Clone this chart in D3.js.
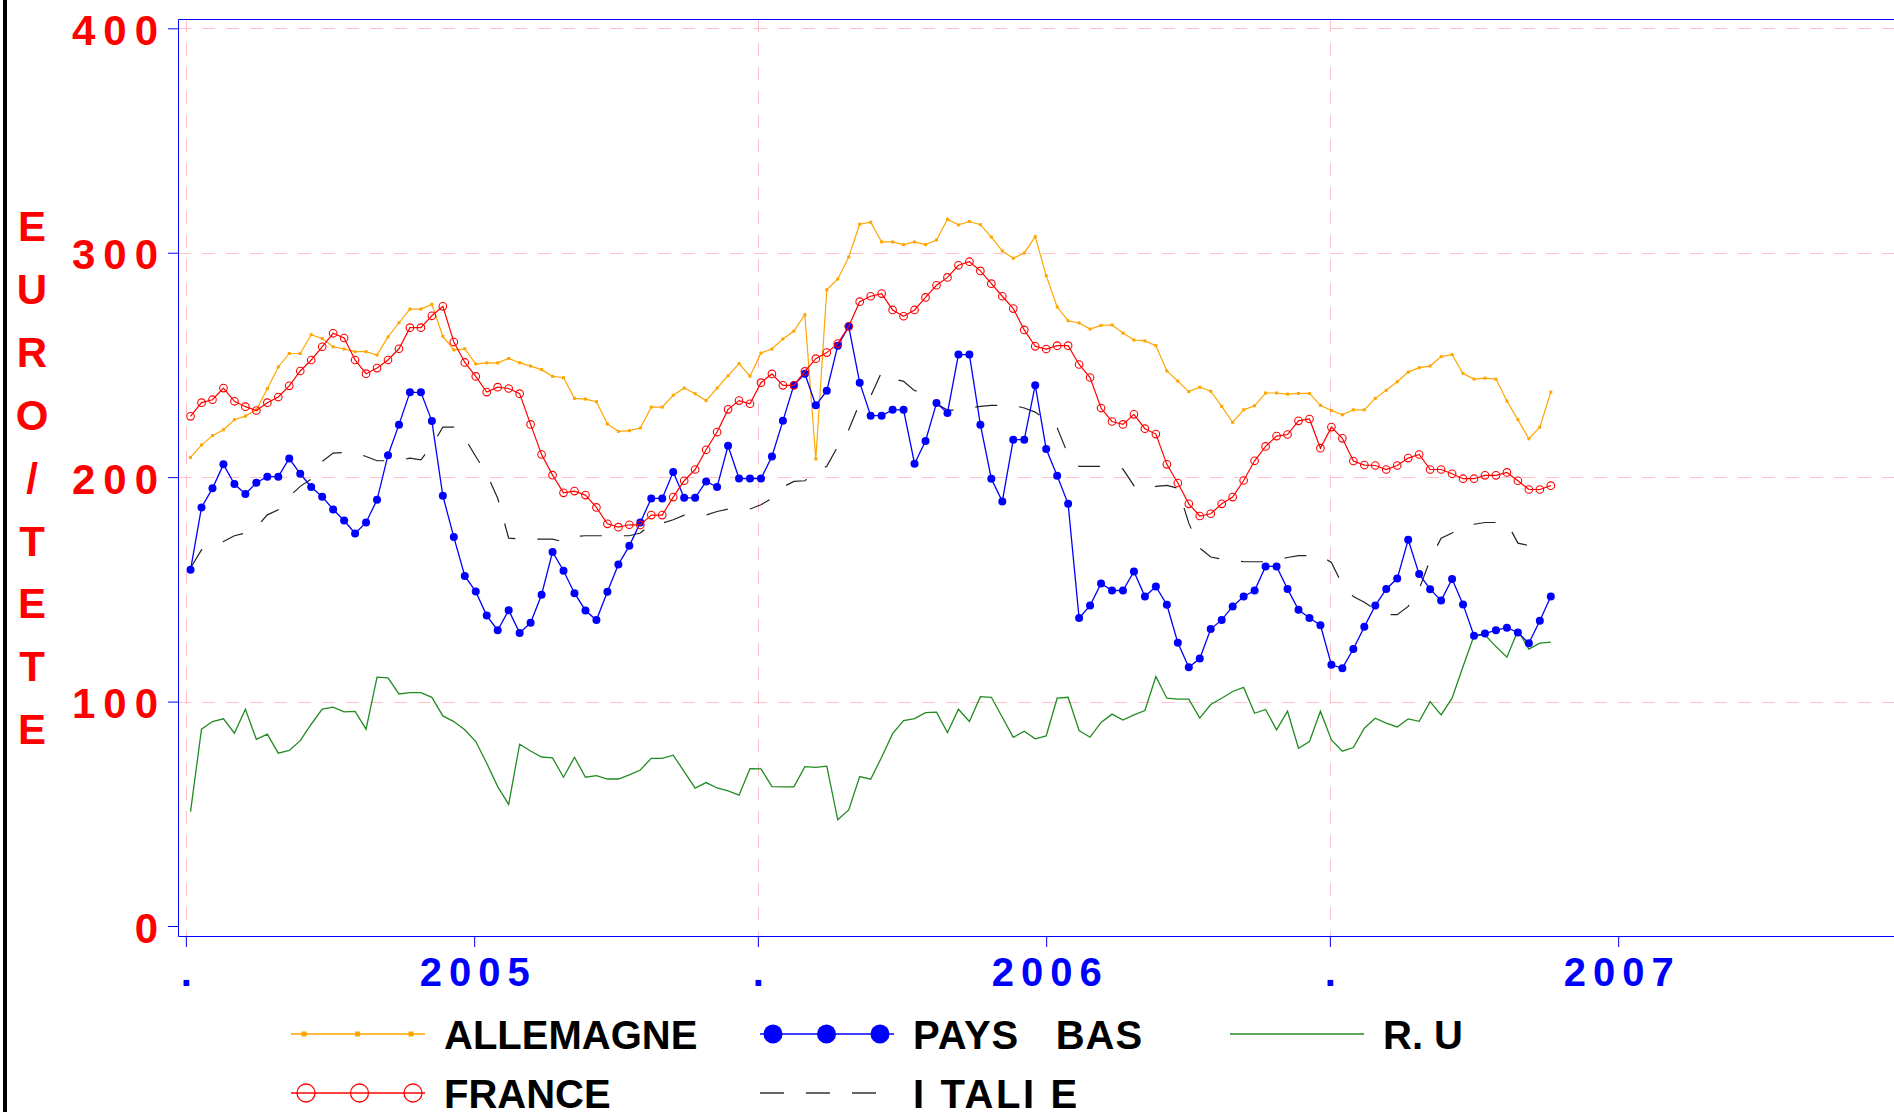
<!DOCTYPE html>
<html>
<head>
<meta charset="utf-8">
<script src="https://cdn.jsdelivr.net/npm/d3@7"></script>
<style>
  html, body { margin: 0; padding: 0; background: #fff; }
  svg { display: block; }
  text { font-family: "Liberation Sans", Arial, Helvetica, sans-serif; font-weight: bold; }
</style>
</head>
<body>
<div id="chart"></div>
<script>
// weekly prices, euro per head
const allemagne = [
  208.8, 214.3, 218.5, 221.1, 225.6, 227.2, 230.0, 239.4, 249.1, 255.1, 255.1, 263.5, 261.8, 258.1, 257.1, 255.9, 255.9, 254.4, 262.5, 268.8, 274.9, 274.9, 277.0, 262.7, 256.7, 257.2, 250.4,
  250.9, 250.9, 252.9, 251.0, 249.5, 247.9, 244.9, 244.3, 235.1, 234.8, 233.6, 223.7, 220.4, 220.7, 221.9, 231.2, 231.2, 236.5, 239.7, 237.2, 234.1, 239.7, 245.2, 250.6, 245.0, 255.3, 257.1,
  261.6, 265.1, 272.4, 208.1, 283.5, 288.3, 298.1, 312.7, 313.6, 304.8, 304.8, 303.6, 304.8, 303.6, 305.7, 314.9, 312.4, 313.9, 312.5, 307.0, 300.8, 297.5, 299.9, 307.2, 289.8, 275.8,
  269.7, 268.7, 266.0, 267.6, 267.8, 264.2, 261.1, 260.7, 258.6, 247.3, 242.8, 238.1, 240.1, 238.3, 231.5, 224.4, 230.0, 231.8, 237.5, 237.5, 237.0, 237.3, 237.3, 232.0, 229.7, 227.8, 230.0,
  230.0, 235.1, 238.7, 242.5, 246.8, 248.8, 249.5, 253.7, 254.6, 246.2, 243.7, 244.1, 243.7, 233.9, 225.6, 217.1, 222.3, 237.9
];
const france = [
  227.1, 233.2, 234.5, 239.7, 233.8, 231.4, 229.7, 233.2, 235.7, 240.7, 247.3, 252.2, 258.1, 264.1, 262.0, 252.2, 246.1, 248.6, 252.2, 257.2, 266.6, 266.6, 271.9, 276.1, 260.2, 251.1, 244.9,
  237.9, 240.1, 239.5, 237.2, 223.5, 210.1, 200.9, 193.0, 193.8, 192.0, 186.5, 179.2, 177.7, 178.8, 178.7, 183.1, 183.1, 191.1, 198.4, 203.4, 212.2, 220.1, 230.2, 234.1, 232.7, 242.1, 246.0,
  240.9, 240.9, 247.1, 252.8, 255.5, 259.5, 267.2, 278.2, 280.6, 281.8, 274.5, 271.7, 274.5, 280.1, 285.5, 289.0, 294.4, 296.0, 291.9, 286.2, 280.6, 275.1, 265.6, 258.3, 257.1, 258.6,
  258.6, 250.2, 244.4, 230.8, 224.8, 223.5, 228.0, 221.6, 219.2, 205.7, 197.4, 188.1, 182.7, 183.7, 188.1, 191.1, 198.5, 207.3, 213.7, 218.3, 219.0, 225.1, 225.9, 212.9, 222.3, 217.3, 207.2,
  205.4, 205.2, 203.4, 205.2, 208.5, 210.1, 203.4, 203.4, 201.5, 199.3, 199.3, 200.8, 200.8, 202.1, 198.4, 194.5, 194.5, 196.2
];
const paysBas = [
  158.7, 186.5, 195.0, 205.7, 196.9, 192.5, 197.5, 200.2, 200.2, 208.3, 201.5, 195.6, 191.3, 185.6, 180.7, 174.9, 179.8, 189.9, 209.8, 223.4, 237.8, 237.8, 225.0, 191.7, 173.3, 156.0, 149.0,
  138.3, 131.8, 140.7, 130.6, 135.1, 147.6, 166.7, 158.3, 148.3, 140.6, 136.3, 148.9, 161.1, 169.4, 179.8, 190.5, 190.5, 202.3, 190.8, 190.8, 198.1, 195.6, 214.0, 199.4, 199.4, 199.4, 209.2,
  225.1, 241.0, 246.1, 232.0, 238.5, 258.6, 267.1, 242.1, 227.4, 227.4, 230.0, 230.0, 206.0, 216.1, 233.0, 228.6, 254.6, 254.6, 223.4, 199.3, 189.2, 216.7, 216.7, 241.0, 212.5, 200.6,
  188.1, 137.2, 142.8, 152.6, 149.5, 149.5, 158.0, 146.8, 151.3, 143.1, 126.2, 115.3, 119.2, 132.3, 136.4, 142.4, 146.8, 149.5, 160.2, 160.2, 150.2, 140.9, 137.2, 134.0, 116.4, 114.9, 123.4,
  133.3, 142.8, 150.2, 154.8, 172.1, 156.8, 150.1, 145.0, 154.6, 143.3, 129.3, 130.3, 131.8, 132.9, 130.8, 126.0, 136.0, 146.8
];
const italie = [
  159.5, 167.6, 169.1, 171.3, 173.9, 175.1, 177.7, 183.2, 185.5, 191.4, 195.9, 199.1, 207.0, 210.7, 211.0, 211.0, 209.2, 207.3, 207.3, 207.3, 208.5, 207.7, 214.1, 222.3, 222.3, 217.4, 209.2,
  201.5, 190.6, 172.8, 172.5, 172.4, 172.4, 172.4, 171.2, 173.6, 173.9, 173.9, 173.9, 173.9, 173.9, 175.1, 179.2, 179.5, 181.0, 183.1, 183.1, 183.1, 184.7, 185.8, 185.8, 185.8, 187.7, 190.6,
  195.6, 198.1, 198.4, 202.5, 204.8, 213.7, 221.1, 233.0, 236.0, 246.8, 243.9, 242.7, 238.5, 238.2, 232.7, 229.9, 229.9, 230.8, 231.5, 232.0, 232.0, 232.0, 230.8, 229.0, 225.6, 222.0,
  210.0, 204.8, 204.8, 204.8, 204.8, 203.6, 196.2, 194.0, 195.9, 196.3, 195.1, 179.5, 168.4, 164.4, 163.5, 162.9, 162.3, 162.3, 162.3, 163.2, 164.2, 165.0, 165.0, 165.0, 162.0, 152.0, 146.8,
  144.3, 141.0, 138.7, 138.7, 142.4, 150.1, 163.2, 172.8, 175.1, 177.9, 179.0, 179.8, 179.8, 179.8, 170.6, 169.5
];
const ru = [
  51.0, 87.7, 91.1, 92.3, 85.9, 96.6, 83.2, 85.5, 77.0, 78.2, 82.6, 89.9, 96.6, 97.5, 95.4, 95.6, 87.7, 110.9, 110.6, 103.4, 104.0, 104.0, 101.9, 93.6, 91.1, 87.4, 82.2, 72.5, 62.1, 54.2,
  81.0, 78.0, 75.3, 74.9, 66.3, 75.2, 66.3, 67.0, 65.5, 65.5, 67.3, 69.5,
  74.7, 74.7, 76.1, 68.8, 61.4, 63.9, 61.5, 60.2, 58.3, 70.1, 70.0, 62.1, 62.0, 62.0, 71.0, 70.7, 71.2, 47.3, 51.7, 66.6, 65.4, 75.2, 85.7, 91.5, 92.4, 95.1, 95.3, 86.2, 96.6, 91.1,
  102.2, 101.9, 93.0, 84.1, 86.8, 83.4, 84.7, 101.5, 101.9, 87.1, 84.1,
  90.7, 94.4, 91.8, 94.1, 96.0, 111.2, 101.5, 101.1, 101.1, 92.6, 98.7, 101.5, 104.5, 106.3, 94.8, 96.5, 87.4, 95.7, 79.2, 82.2, 95.7, 82.9, 77.9, 79.5, 88.1, 92.6, 90.4, 88.7, 92.3, 91.2,
  100.0, 94.1, 101.5, 115.6, 129.3, 129.7, 124.5, 119.8, 131.7, 123.4, 126.0, 126.5
];

const firstWeek = new Date(2004, 6, 4);
const yTicks = [0, 100, 200, 300, 400];
const xTickDates = [new Date(2004, 6, 1), new Date(2005, 0, 1), new Date(2005, 6, 1),
                    new Date(2006, 0, 1), new Date(2006, 6, 1), new Date(2007, 0, 1)];
const xTickLabels = ['.', '2005', '.', '2006', '.', '2007'];
const yTitle = 'EURO/TETE';

const width = 1894, height = 1112;
const plot = { left: 178, top: 19, right: 1900, bottom: 936 };

const svg = d3.select('#chart').append('svg')
  .attr('width', width).attr('height', height);

// black rule down the left edge
svg.append('rect').attr('x', 3).attr('y', 0).attr('width', 4).attr('height', height).attr('fill', '#000');

const x = d3.scaleTime()
  .domain([new Date(2004, 5, 26), new Date(2007, 5, 26)])
  .range([plot.left, 1894]);
const y = d3.scaleLinear().domain([0, 400]).range([926, 28.3]);

const weekOf = i => d3.timeDay.offset(firstWeek, 7 * i);

// grid
const gridG = svg.append('g').attr('class', 'grid')
  .attr('stroke', '#ffc0cb').attr('stroke-width', 1).attr('stroke-dasharray', '13 11');
gridG.selectAll('.hg').data(yTicks.filter(v => v > 0)).enter().append('line')
  .attr('x1', plot.left).attr('x2', plot.right)
  .attr('y1', d => Math.round(y(d)) + 0.5).attr('y2', d => Math.round(y(d)) + 0.5);
gridG.selectAll('.vg').data(xTickDates.filter((d, i) => xTickLabels[i] === '.')).enter().append('line')
  .attr('x1', d => Math.round(x(d)) + 0.5).attr('x2', d => Math.round(x(d)) + 0.5)
  .attr('y1', plot.top).attr('y2', plot.bottom);

// frame
svg.append('path')
  .attr('d', `M${plot.right},${plot.top + 0.5}H${plot.left + 0.5}V${plot.bottom + 0.5}H${plot.right}`)
  .attr('fill', 'none').attr('stroke', '#0000ff').attr('stroke-width', 1);

// axes
const xAxisG = svg.append('g').attr('transform', `translate(0,${plot.bottom})`);
xAxisG.call(d3.axisBottom(x).tickValues(xTickDates).tickSize(11).tickFormat((d, i) => xTickLabels[i]));
xAxisG.select('.domain').remove();
xAxisG.selectAll('line').attr('stroke', '#0000ff');
xAxisG.selectAll('text')
  .attr('y', 50).attr('dy', null).attr('x', 3.5)
  .attr('fill', '#0000ff').style('font-size', '40px').style('letter-spacing', '7px');

const yAxisG = svg.append('g').attr('transform', `translate(${plot.left},0)`);
yAxisG.call(d3.axisLeft(y).tickValues(yTicks).tickSize(10));
yAxisG.select('.domain').remove();
yAxisG.selectAll('line').attr('stroke', '#0000ff');
yAxisG.selectAll('text')
  .attr('x', -12).attr('dy', null).attr('y', 16)
  .attr('fill', '#ff0000').style('font-size', '42px').style('letter-spacing', '8px');

// vertical title, one letter per line
svg.append('g').selectAll('text').data(yTitle.split('')).enter().append('text')
  .attr('x', 32).attr('y', (d, i) => 241 + 62.9 * i)
  .attr('text-anchor', 'middle').attr('fill', '#ff0000').style('font-size', '42px')
  .text(d => d);

// series
const line = d3.line().x((d, i) => x(weekOf(i))).y(d => y(d));
const linesG = svg.append('g').attr('class', 'lines');

function drawLine(values, color, widthPx, dash) {
  linesG.append('path').datum(values)
    .attr('d', line).attr('fill', 'none')
    .attr('stroke', color).attr('stroke-width', widthPx)
    .attr('stroke-dasharray', dash || null);
}

drawLine(allemagne, '#ffa500', 1.2);
linesG.append('g').selectAll('rect').data(allemagne).enter().append('rect')
  .attr('x', (d, i) => x(weekOf(i)) - 1.5).attr('y', d => y(d) - 1.5)
  .attr('width', 3).attr('height', 3).attr('fill', '#ffa500');

drawLine(ru, '#228b22', 1.3);
drawLine(italie, '#222', 1.2, '22 22');

drawLine(paysBas, '#0000ff', 1.3);
linesG.append('g').selectAll('circle').data(paysBas).enter().append('circle')
  .attr('cx', (d, i) => x(weekOf(i))).attr('cy', d => y(d)).attr('r', 4)
  .attr('fill', '#0000ff');

drawLine(france, '#ff0000', 1.2);
linesG.append('g').selectAll('circle').data(france).enter().append('circle')
  .attr('cx', (d, i) => x(weekOf(i))).attr('cy', d => y(d)).attr('r', 3.8)
  .attr('fill', 'none').attr('stroke', '#ff0000').attr('stroke-width', 1.1);

// legend
const legendG = svg.append('g').attr('class', 'legend');
const rows = [1034, 1093];

function legendEntry(x0, row, label, color, marker, dash, spacing) {
  const cy = rows[row];
  const g = legendG.append('g');
  g.append('line').attr('x1', x0).attr('x2', x0 + 134).attr('y1', cy).attr('y2', cy)
    .attr('stroke', color).attr('stroke-width', 1.5).attr('stroke-dasharray', dash || null);
  [13, 66.5, 120].forEach(dx => {
    if (marker === 'square') {
      g.append('rect').attr('x', x0 + dx - 2.5).attr('y', cy - 2.5).attr('width', 5).attr('height', 5).attr('fill', color);
    } else if (marker === 'dot') {
      g.append('circle').attr('cx', x0 + dx).attr('cy', cy).attr('r', 9.5).attr('fill', color);
    } else if (marker === 'ring') {
      g.append('circle').attr('cx', x0 + dx + 2).attr('cy', cy).attr('r', 9).attr('fill', 'none')
        .attr('stroke', color).attr('stroke-width', 1.3);
    }
  });
  g.append('text').attr('x', x0 + 153).attr('y', cy + 15)
    .attr('fill', '#000').style('font-size', '40px').style('white-space', 'pre')
    .style('letter-spacing', (spacing || 0) + 'px')
    .text(label);
}

legendEntry(291, 0, 'ALLEMAGNE', '#ffa500', 'square');
legendEntry(291, 1, 'FRANCE', '#ff0000', 'ring');
legendEntry(760, 0, 'PAYS   BAS', '#0000ff', 'dot', null, 1);
legendEntry(760, 1, 'I TALI E', '#333', null, '24 22', 2.6);
legendEntry(1230, 0, 'R. U', '#228b22', null);
</script>
</body>
</html>
